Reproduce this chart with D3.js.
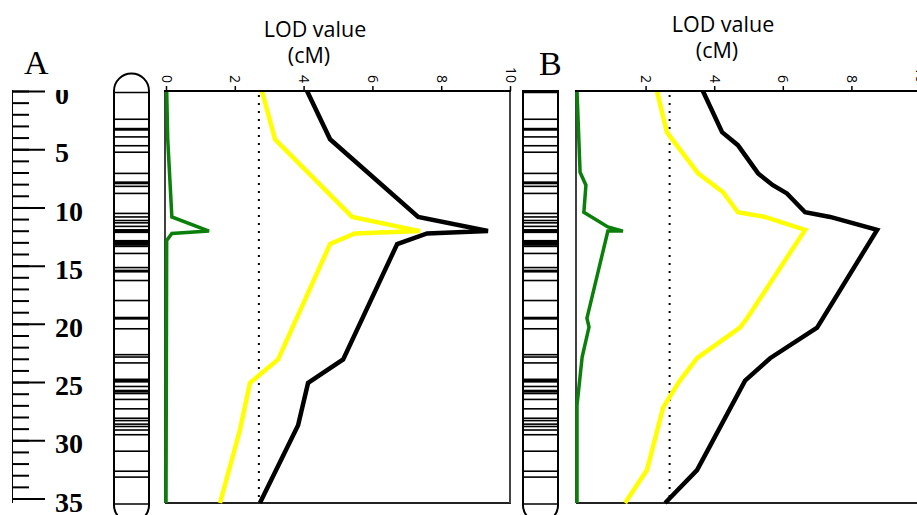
<!DOCTYPE html>
<html>
<head>
<meta charset="utf-8">
<script src="https://cdn.jsdelivr.net/npm/d3@7"></script>
<style>
  body { margin: 0; background: #fff; }
  svg { display: block; }
</style>
</head>
<body>
<div id="chart"></div>
<script>
// map axis (cM) and LOD axis
let ruler_minor = d3.range(0, 36);
let ruler_major = [0, 5, 10, 15, 20, 25, 30, 35];
let lod_ticks_a = [0, 2, 4, 6, 8, 10];
let lod_ticks_b = [2, 4, 6, 8, 10];
let lod_threshold = 2.7;

// marker bands on the chromosome: position (cM) and span of the cluster (cM)
let band_pos = [2.4, 3.25, 3.9, 4.65, 5.2, 7.0, 7.8, 8.1, 8.7, 10.4, 10.7, 11.0, 11.2, 11.5, 11.9, 12.9,
                13.2, 13.8, 15.0, 15.3, 16.1, 17.8, 19.3, 20.2, 22.4, 22.6, 23.1, 24.6, 25.1, 25.5,
                25.7, 26.2, 27.0, 27.8, 28.0, 28.3, 28.5, 28.8, 29.2, 30.6, 32.3, 32.8];
let band_span = [0, 0.25, 0, 0, 0, 0, 0.25, 0, 0, 0, 0, 0, 0, 0, 0.35, 0.5,
                 0, 0, 0, 0.25, 0, 0, 0.25, 0, 0, 0, 0, 0.35, 0, 0.25,
                 0, 0, 0, 0, 0, 0, 0, 0, 0, 0, 0, 0];

// panel A
let a_black_pos = [0, 4.1, 10.7, 11.9, 12.1, 13.0, 22.8, 24.8, 28.4, 35];
let a_black_lod = [4.10, 4.77, 7.33, 9.36, 7.59, 6.72, 5.15, 4.13, 3.84, 2.73];
let a_yellow_pos = [0, 4.1, 10.7, 11.9, 12.1, 13.0, 22.8, 24.8, 28.8, 35];
let a_yellow_lod = [2.79, 3.17, 5.41, 7.38, 5.49, 4.77, 3.26, 2.44, 2.15, 1.57];
let a_green_pos = [0, 4.1, 10.7, 11.9, 12.1, 12.7, 35];
let a_green_lod = [0.02, 0.05, 0.17, 1.25, 0.17, 0.02, 0];

// panel B
let b_black_pos = [0, 3.5, 4.6, 7.0, 8.0, 8.7, 10.3, 10.7, 11.8, 20.1, 22.7, 24.6, 32.2, 35];
let b_black_lod = [3.67, 4.23, 4.69, 5.28, 5.71, 6.12, 6.65, 7.38, 8.75, 7.0, 5.63, 4.9, 3.5, 2.57];
let b_yellow_pos = [0, 3.5, 7.0, 8.6, 10.3, 10.7, 11.8, 19.3, 20.1, 22.7, 24.6, 26.9, 32.2, 35];
let b_yellow_lod = [2.33, 2.62, 3.53, 4.26, 4.69, 5.48, 6.65, 4.96, 4.75, 3.5, 3.0, 2.51, 2.04, 1.4];
let b_green_pos = [0, 6.9, 8.0, 10.3, 11.55, 11.9, 11.9, 19.3, 20.05, 22.6, 26.7, 35];
let b_green_lod = [0, 0.09, 0.26, 0.2, 0.9, 1.34, 0.9, 0.29, 0.35, 0.15, 0, 0];

function add_svg(wrapper)
{
  let svg = d3.select(wrapper).append("svg");
  return svg.attr("width", 917).attr("height", 515);
}

let svg = add_svg("#chart");
let scaley = d3.scaleLinear().domain([0, 35]).range([91, 503]);
let scale_ruler = d3.scaleLinear().domain([0, 35]).range([91, 498.5]);

function draw_ruler()
{
  svg.append("clipPath").attr("id", "ruler_clip")
    .append("rect").attr("x", 0).attr("y", 90).attr("width", 110).attr("height", 430);

  let g = svg.append("g").attr("clip-path", "url(#ruler_clip)").attr("transform", "translate(12,0)");

  let minor = d3.axisRight(scale_ruler).tickValues(ruler_minor).tickSize(17).tickSizeOuter(0).tickFormat("");
  let major = d3.axisRight(scale_ruler).tickValues(ruler_major).tickSize(33).tickSizeOuter(0).tickPadding(10);

  g.append("g").call(minor);
  g.append("g").call(major);
  g.selectAll(".domain").remove();
  g.selectAll("line").attr("stroke", "#000").attr("stroke-width", 2);
  g.selectAll("text")
    .attr("font-family", "'Liberation Serif', 'Times New Roman', serif")
    .attr("font-weight", "bold").attr("font-size", 28).attr("fill", "#000")
    .attr("dy", "0.45em");

  g.append("line").attr("x1", 0).attr("x2", 0).attr("y1", scale_ruler(0) - 1).attr("y2", 503)
    .attr("stroke", "#000").attr("stroke-width", 2);
}

function draw_chromosome(cx, round_top)
{
  let w = 35, r = w / 2, left = cx - r, right = cx + r;
  let top = scaley(0), bottom = scaley(35);
  let g = svg.append("g");

  let path = d3.path();
  if (round_top) {
    path.moveTo(left, top);
    path.arc(cx, top, r, Math.PI, 0);
  } else {
    path.moveTo(left, top);
    path.lineTo(right, top);
  }
  path.lineTo(right, bottom + 2);
  path.arc(cx, bottom + 2, r, 0, Math.PI);
  path.closePath();

  g.append("path").attr("d", path.toString())
    .attr("fill", "#fff").attr("stroke", "#000").attr("stroke-width", 2);

  g.selectAll(".band").data(band_pos.map((p, i) => ({pos: p, span: band_span[i]})))
    .join("rect").attr("class", "band")
    .attr("x", left).attr("width", w)
    .attr("y", d => { let h = Math.max(1.6, scaley(d.pos + d.span) - scaley(d.pos)); return scaley(d.pos) - h / 2; })
    .attr("height", d => Math.max(1.6, scaley(d.pos + d.span) - scaley(d.pos)))
    .attr("fill", "#000");

  g.append("line").attr("x1", left).attr("x2", right).attr("y1", top + 1.5).attr("y2", top + 1.5)
    .attr("stroke", "#000").attr("stroke-width", 1.5);
  g.append("line").attr("x1", left).attr("x2", right).attr("y1", bottom + 1).attr("y2", bottom + 1)
    .attr("stroke", "#000").attr("stroke-width", 1.5);
}

function draw_panel(x0, x1, ticks, series, right_edge)
{
  let scalex = d3.scaleLinear().domain([0, 10]).range([x0, x1]);
  let g = svg.append("g");

  // box
  g.append("line").attr("x1", x0 - 1).attr("x2", x0 - 1).attr("y1", scaley(0)).attr("y2", scaley(35))
    .attr("stroke", "#000").attr("stroke-width", 1.5);
  g.append("line").attr("x1", x0 - 1).attr("x2", x1 + 1).attr("y1", scaley(35)).attr("y2", scaley(35))
    .attr("stroke", "#222").attr("stroke-width", 2);
  if (right_edge)
    g.append("line").attr("x1", x1).attr("x2", x1).attr("y1", scaley(0)).attr("y2", scaley(35))
      .attr("stroke", "#444").attr("stroke-width", 2);

  // threshold
  g.append("line").attr("x1", scalex(lod_threshold)).attr("x2", scalex(lod_threshold))
    .attr("y1", scaley(0) + 4).attr("y2", scaley(35))
    .attr("stroke", "#000").attr("stroke-width", 2).attr("stroke-dasharray", "2,6");

  let line = d3.line().x(d => scalex(d[1])).y(d => scaley(d[0]));
  series.forEach(s => {
    g.append("path").datum(d3.zip(s.pos, s.lod))
      .attr("d", line).attr("fill", "none")
      .attr("stroke", s.color).attr("stroke-width", s.width);
  });

  let x_axis = d3.axisTop(scalex).tickValues(ticks).tickSize(5).tickSizeOuter(0);
  let ax = g.append("g").attr("transform", "translate(0," + scaley(0) + ")").call(x_axis);
  ax.select(".domain").attr("stroke", "#000").attr("stroke-width", 2)
    .attr("d", "M" + (x0 - 2) + ",0H" + (x1 + 1));
  ax.selectAll("line").attr("stroke", "#000").attr("stroke-width", 1.5);
  ax.selectAll("text")
    .attr("font-family", "'Open Sans', sans-serif").attr("font-size", 14).attr("fill", "#000")
    .attr("x", 0).attr("y", 0).attr("dy", "0.35em")
    .attr("text-anchor", "end")
    .attr("transform", "translate(0,-8) rotate(90)");
}

function draw_title(cx, y1, y2, letter, lx, ly)
{
  let font = "'Open Sans', sans-serif";
  svg.append("text").attr("x", cx).attr("y", y1).attr("text-anchor", "middle")
    .attr("font-family", font).attr("font-size", 21.5).text("LOD value");
  svg.append("text").attr("x", cx - 6).attr("y", y2).attr("text-anchor", "middle")
    .attr("font-family", font).attr("font-size", 21.5).text("(cM)");
  svg.append("text").attr("x", lx).attr("y", ly)
    .attr("font-family", "'Liberation Serif', 'Times New Roman', serif").attr("font-size", 34).text(letter);
}

draw_ruler();
draw_chromosome(131.5, true);
draw_chromosome(540.5, false);

draw_panel(166, 510, lod_ticks_a, [
  {pos: a_black_pos, lod: a_black_lod, color: "#000", width: 4.5},
  {pos: a_yellow_pos, lod: a_yellow_lod, color: "#ffff00", width: 4.5},
  {pos: a_green_pos, lod: a_green_lod, color: "#0a800a", width: 3.5}
], true);

draw_panel(577, 920, lod_ticks_b, [
  {pos: b_black_pos, lod: b_black_lod, color: "#000", width: 4.5},
  {pos: b_yellow_pos, lod: b_yellow_lod, color: "#ffff00", width: 4.5},
  {pos: b_green_pos, lod: b_green_lod, color: "#0a800a", width: 3.5}
], false);

draw_title(315, 37, 63, "A", 24, 74);
draw_title(723, 32, 58, "B", 539, 75);
</script>
</body>
</html>
